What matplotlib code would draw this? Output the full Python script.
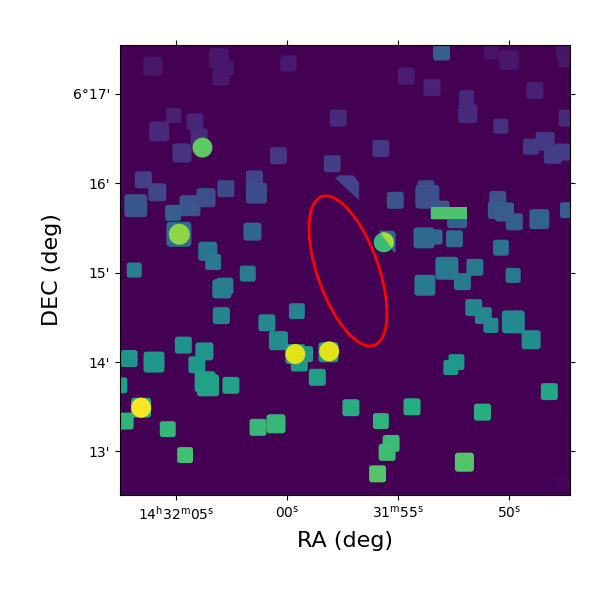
import numpy as np
import matplotlib
matplotlib.use('Agg')
import matplotlib.pyplot as plt
from matplotlib.path import Path

# RA is seconds past 14h31m, Dec is arcmin past 6 deg, width in arcsec
box_ra = [66.09, 63.12, 62.75, 63.03, 59.99, 65.15, 64.20, 65.81, 64.01, 64.78, 60.44, 57.75,
          58.02, 66.52, 65.89, 66.86, 64.42, 63.70, 62.81, 61.52, 61.43, 65.18, 64.92, 61.61,
          63.62, 63.38, 66.93, 61.82, 53.10, 50.87, 50.06, 47.59, 47.59, 54.68, 53.53, 51.98,
          51.92, 48.90, 47.45, 50.43, 55.83, 49.08, 48.44, 48.09, 47.64, 55.18, 53.80, 53.74,
          53.17, 52.40, 50.57, 50.61, 50.27, 49.83, 48.70, 47.41, 53.89, 53.39, 52.52, 50.43,
          52.86, 51.60, 52.16, 53.85, 49.88, 51.65, 51.22, 50.88, 49.87, 49.07, 52.43, 52.68,
          48.25, 54.43, 57.18, 51.26, 55.83, 55.37, 55.55, 52.07, 55.98, 47.63, 62.85, 62.99,
          63.01, 60.96, 60.44, 59.61, 64.72, 63.77, 64.11, 67.16, 66.04, 67.60, 63.74, 63.61,
          62.58, 58.69, 59.68, 59.24, 59.50, 58.19, 66.62, 67.34, 65.42, 61.36, 60.55, 64.64]
box_dec = [17.31, 17.40, 17.29, 17.19, 17.34, 16.76, 16.69, 16.58, 16.52, 16.34, 16.31, 16.73,
           16.22, 16.04, 15.90, 15.75, 15.75, 15.84, 15.94, 16.05, 15.89, 15.67, 15.43, 15.46,
           15.24, 15.12, 15.03, 14.99, 17.47, 17.47, 17.38, 17.47, 17.36, 17.20, 17.07, 16.96,
           16.78, 17.04, 16.73, 16.64, 16.39, 16.41, 16.47, 16.32, 16.35, 15.81, 15.94, 15.85,
           15.70, 15.61, 15.82, 15.70, 15.68, 15.57, 15.60, 15.70, 15.39, 15.40, 15.38, 15.28,
           15.05, 15.06, 14.90, 14.86, 14.97, 14.61, 14.52, 14.41, 14.45, 14.25, 14.00, 13.94,
           13.67, 13.50, 13.49, 13.44, 13.34, 13.09, 12.99, 12.88, 12.75, 12.64, 14.85, 14.82,
           14.52, 14.44, 14.24, 14.57, 14.19, 14.12, 13.97, 14.04, 14.00, 13.74, 13.78, 13.74,
           13.74, 13.83, 14.09, 14.09, 13.99, 14.11, 13.49, 13.34, 13.25, 13.27, 13.31, 12.96]
box_width = [12.8, 13.4, 9.4, 11.4, 10.7, 10.1, 11.4, 13.4, 11.4, 12.8, 11.4, 11.4,
             11.4, 11.4, 12.1, 15.4, 14.1, 12.8, 11.4, 11.4, 14.1, 10.7, 16.8, 12.1,
             12.8, 10.7, 10.1, 10.7, 11.4, 10.1, 13.4, 10.7, 7.4, 11.4, 11.4, 10.1,
             12.8, 11.4, 11.4, 10.1, 11.4, 10.7, 12.8, 12.1, 11.4, 11.4, 11.4, 16.1,
             12.8, 13.4, 11.4, 12.1, 12.8, 11.4, 13.4, 10.7, 14.1, 10.1, 11.4, 10.7,
             15.4, 11.4, 11.4, 14.1, 10.1, 11.4, 11.4, 10.1, 15.4, 12.8, 10.7, 10.1,
             11.4, 11.4, 11.4, 11.4, 10.7, 11.4, 11.4, 12.8, 11.4, 8.0, 11.4, 12.8,
             11.4, 11.4, 12.8, 10.7, 11.4, 12.1, 11.4, 11.4, 14.1, 10.7, 14.1, 14.8,
             11.4, 11.4, 13.4, 10.7, 11.4, 13.4, 13.4, 11.4, 10.7, 11.4, 12.8, 10.7]
box_val = [.06, .06, .06, .06, .07, .09, .10, .11, .12, .15, .16, .12,
           .18, .19, .21, .26, .26, .24, .22, .20, .23, .30, .34, .33,
           .38, .40, .42, .42, .30, .05, .06, .05, .06, .08, .10, .11,
           .12, .09, .12, .14, .16, .17, .17, .18, .18, .26, .22, .24,
           .27, .30, .25, .28, .29, .30, .31, .29, .34, .34, .35, .38,
           .41, .40, .41, .41, .40, .45, .46, .47, .47, .49, .53, .54,
           .60, .62, .62, .63, .65, .68, .69, .73, .73, .015, .42, .42,
           .45, .47, .49, .44, .50, .52, .53, .52, .53, .57, .57, .58,
           .58, .56, .52, .53, .54, .52, .60, .65, .66, .67, .67, .70]

# sources cut by a neighbour
cut_ra = [[57.89, 57.67, 57.08, 56.81, 56.81],
          [55.91, 55.28, 55.17, 55.17, 55.26, 55.42],
          [53.58, 51.96, 51.96, 53.58]]
cut_dec = [[16.06, 16.09, 16.09, 16.01, 15.81],
           [15.47, 15.47, 15.44, 15.23, 15.23, 15.30],
           [15.73, 15.73, 15.60, 15.60]]
cut_val = [.20, .33, .72]

circle_ra = [63.86, 64.90, 59.68, 58.16, 66.62, 55.70]
circle_dec = [16.40, 15.43, 14.09, 14.12, 13.49, 15.34]
circle_width = [13.4, 14.1, 13.4, 13.4, 13.4, 13.4]
circle_val = [.75, .83, .95, .95, 1.0, .68]

# lime part of the split circle, same centre as the last circle
split_ra = 55.70
split_dec = 15.34
split_width = 13.4
split_val = .87
split_from = -36
split_to = 110

# red ellipse: centre, semi axes in arcsec, position angle
ell_ra = 57.26
ell_dec = 15.02
ell_a = 52.9
ell_b = 20.5
ell_pa = 19.4

ra_ticks = [65, 60, 55, 50]
ra_labels = [r'$\mathrm{14^{h}32^{m}05^{s}}$', r'$\mathrm{00^{s}}$',
             r'$\mathrm{31^{m}55^{s}}$', r'$\mathrm{50^{s}}$']
dec_ticks = [17, 16, 15, 14, 13]
dec_labels = ["6°17'", "16'", "15'", "14'", "13'"]

PX_PER_ARCSEC = 1.49
ARCSEC_PER_RA_SEC = 14.9
RA_SHIFT = -0.05  # positions above read about 1 px too far east


def rounded_square(r=0.16):
    h = 0.5
    verts = [(-h + r, -h), (h - r, -h), (h, -h), (h, -h + r), (h, h - r), (h, h), (h - r, h),
             (-h + r, h), (-h, h), (-h, h - r), (-h, -h + r), (-h, -h), (-h + r, -h), (-h + r, -h)]
    codes = [Path.MOVETO, Path.LINETO, Path.CURVE3, Path.CURVE3, Path.LINETO, Path.CURVE3, Path.CURVE3,
             Path.LINETO, Path.CURVE3, Path.CURVE3, Path.LINETO, Path.CURVE3, Path.CURVE3, Path.CLOSEPOLY]
    return Path(verts, codes)


def marker_area(width):
    # width in arcsec to scatter area in points^2
    return (np.array(width) * PX_PER_ARCSEC * 0.72) ** 2


cmap = plt.get_cmap('viridis')

fig = plt.figure(figsize=(6, 6), dpi=100)
ax = fig.add_axes([0.2, 0.175, 0.75, 0.75])
ax.set_facecolor(cmap(0.0))

ax.scatter(np.array(box_ra) + RA_SHIFT, box_dec, s=marker_area(box_width), c=box_val, cmap=cmap,
           vmin=0, vmax=1, marker=rounded_square(), linewidths=0, zorder=2)

for xs, ys, v in zip(cut_ra, cut_dec, cut_val):
    ax.fill(np.array(xs) + RA_SHIFT, ys, color=cmap(v), linewidth=0, zorder=3)

ax.scatter(np.array(circle_ra) + RA_SHIFT, circle_dec, s=marker_area(circle_width), c=circle_val, cmap=cmap,
           vmin=0, vmax=1, marker='o', linewidths=0, zorder=4)

# lime segment laid over the green circle, RA runs right to left
theta = np.radians(np.linspace(split_from, split_to, 60))
seg_x = split_ra + RA_SHIFT - (split_width / 2) * np.cos(theta) / ARCSEC_PER_RA_SEC
seg_y = split_dec + (split_width / 2) * np.sin(theta) / 60
ax.fill(seg_x, seg_y, color=cmap(split_val), linewidth=0, zorder=5)

t = np.linspace(0, 2 * np.pi, 300)
pa = np.radians(ell_pa)
d_north = ell_a * np.cos(t) * np.cos(pa) - ell_b * np.sin(t) * np.sin(pa)
d_east = ell_a * np.cos(t) * np.sin(pa) + ell_b * np.sin(t) * np.cos(pa)
ax.plot(ell_ra + d_east / ARCSEC_PER_RA_SEC, ell_dec + d_north / 60, color='red', lw=2, zorder=6)

ax.set_xlim(67.52, 47.27)
ax.set_ylim(12.513, 17.548)
ax.set_xticks(ra_ticks)
ax.set_xticklabels(ra_labels)
ax.set_yticks(dec_ticks)
ax.set_yticklabels(dec_labels)
ax.tick_params(top=True, right=True, labelsize=10)
ax.set_xlabel('RA (deg)', fontsize=16, labelpad=6)
ax.set_ylabel('DEC (deg)', fontsize=16, labelpad=7.5)

plt.savefig('out.png', dpi=100)
